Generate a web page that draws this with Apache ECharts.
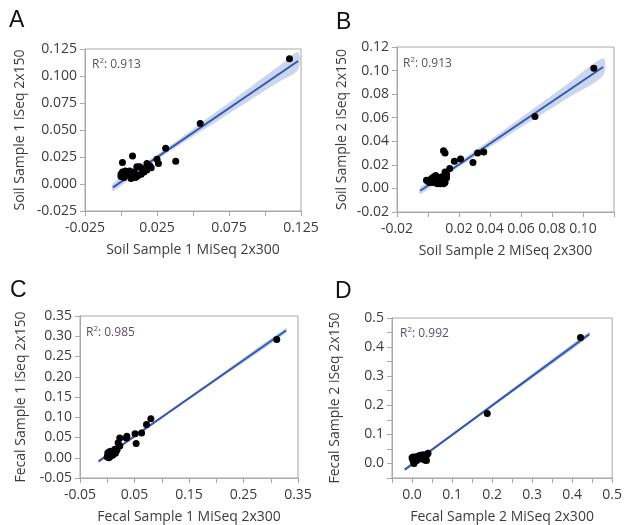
<!DOCTYPE html>
<html>
<head>
<meta charset="utf-8">
<script src="https://cdn.jsdelivr.net/npm/echarts@6/dist/echarts.min.js"></script>
<style>html,body{margin:0;padding:0;background:#fff}#c{width:625px;height:525px}</style>
</head>
<body>
<div id="c"></div>
<script>
// ---- data ----
const panelLetters = ['A', 'B', 'C', 'D'];
const r2Values = ['0.913', '0.913', '0.985', '0.992'];
const xNames = ['Soil Sample 1 MiSeq 2x300', 'Soil Sample 2 MiSeq 2x300', 'Fecal Sample 1 MiSeq 2x300', 'Fecal Sample 2 MiSeq 2x300'];
const yNames = ['Soil Sample 1 iSeq 2x150', 'Soil Sample 2 iSeq 2x150', 'Fecal Sample 1 iSeq 2x150', 'Fecal Sample 2 iSeq 2x150'];

const soil1Points = [
  [0.117, 0.116], [0.055, 0.056], [0.031, 0.033], [0.038, 0.021], [0.026, 0.019], [0.025, 0.023],
  [0.020, 0.017], [0.018, 0.019], [0.008, 0.026], [0.001, 0.020], [0.013, 0.016], [0.011, 0.016],
  [0.015, 0.014], [0.016, 0.011], [0.012, 0.008], [0.010, 0.006], [0.007, 0.005], [0.005, 0.009],
  [0.003, 0.008], [0.001, 0.011], [0.000, 0.009], [0.000, 0.007], [0.002, 0.006], [0.004, 0.010],
  [0.006, 0.012], [0.009, 0.011], [0.014, 0.009], [0.011, 0.007], [0.018, 0.013], [0.021, 0.015],
  [0.003, 0.012], [0.007, 0.009]
];
const soil2Points = [
  [0.107, 0.102], [0.069, 0.061], [0.036, 0.031], [0.032, 0.030], [0.029, 0.022], [0.021, 0.025],
  [0.017, 0.023], [0.010, 0.032], [0.011, 0.030], [0.014, 0.017], [0.011, 0.014],
  [-0.001, 0.007], [0.000, 0.006], [0.002, 0.008], [0.003, 0.009], [0.004, 0.010], [0.005, 0.011],
  [0.003, 0.005], [0.005, 0.006], [0.006, 0.004], [0.007, 0.005], [0.008, 0.006], [0.009, 0.005],
  [0.010, 0.007], [0.011, 0.008], [0.012, 0.009], [0.010, 0.004], [0.008, 0.004], [0.006, 0.008],
  [0.007, 0.009], [0.009, 0.010], [0.012, 0.012], [0.001, 0.005], [0.004, 0.006], [0.011, 0.005]
];
const fecal1Points = [
  [0.311, 0.292], [0.080, 0.096], [0.072, 0.082], [0.063, 0.061], [0.051, 0.059], [0.053, 0.035],
  [0.036, 0.053], [0.035, 0.049], [0.023, 0.049], [0.020, 0.037], [0.023, 0.029], [0.014, 0.021],
  [0.018, 0.019], [0.000, 0.002], [0.001, 0.005], [0.002, 0.010], [0.003, 0.013], [0.004, 0.015],
  [0.006, 0.012], [0.008, 0.008], [0.010, 0.006], [0.005, 0.003], [0.007, 0.016], [0.009, 0.012],
  [0.011, 0.010], [0.001, 0.012], [0.003, 0.000], [0.012, 0.014], [0.014, 0.018], [0.015, 0.011]
];
const fecal2Points = [
  [0.421, 0.433], [0.188, 0.172],
  [0.000, 0.020], [0.002, 0.012], [0.004, 0.005], [0.006, 0.018], [0.008, 0.022], [0.010, 0.015],
  [0.012, 0.010], [0.015, 0.025], [0.018, 0.020], [0.020, 0.028], [0.022, 0.018], [0.025, 0.015],
  [0.028, 0.030], [0.030, 0.022], [0.032, 0.012], [0.035, 0.025], [0.038, 0.032], [0.036, 0.010],
  [0.040, 0.035], [0.005, 0.000], [0.003, 0.022]
];
const allPoints = [soil1Points, soil2Points, fecal1Points, fecal2Points];

// regression fits
const fitSlope = [0.91, 0.89, 0.94, 1.01];
const fitIntercept = [0.002, 0.0025, 0.006, -0.003];
const fitXStart = [-0.0056, -0.005, -0.016, -0.018];
const fitXEnd = [0.123, 0.113, 0.328, 0.443];
// confidence band: x positions and half widths
const bandX = [
  [-0.0056, 0.01, 0.03, 0.05, 0.07, 0.09, 0.11, 0.123],
  [-0.005, 0.01, 0.03, 0.05, 0.07, 0.09, 0.113],
  [-0.016, 0.02, 0.1, 0.2, 0.328],
  [-0.018, 0.05, 0.2, 0.443]
];
const bandHalf = [
  [0.0035, 0.0025, 0.0025, 0.0035, 0.0048, 0.0060, 0.0073, 0.0082],
  [0.003, 0.002, 0.0025, 0.0035, 0.0047, 0.006, 0.0073],
  [0.003, 0.0025, 0.003, 0.004, 0.006],
  [0.004, 0.003, 0.005, 0.008]
];

// axis scales
const xMin = [-0.025, -0.02, -0.05, -0.05];
const xMax = [0.125, 0.12, 0.35, 0.5];
const xStep = [0.025, 0.02, 0.05, 0.05];
const yMin = [-0.025, -0.02, -0.05, -0.05];
const yMax = [0.125, 0.12, 0.35, 0.5];
const yStep = [0.025, 0.02, 0.05, 0.05];
const xDecimals = [3, 2, 2, 1];
const yDecimals = [3, 2, 2, 1];
const xLabelRule = ['even', 'soil2', 'even', 'odd'];
const yLabelRule = ['all', 'all', 'all', 'odd'];

// ---- layout ----
const grids = [
  { left: 85, top: 49, width: 216, height: 162 },
  { left: 397, top: 47, width: 217, height: 165 },
  { left: 80, top: 316, width: 218, height: 165 },
  { left: 392, top: 318, width: 224, height: 164 }
];
const letterPos = [[9, 9], [336, 11], [10, 279], [335, 280]];
const r2Pos = [[92, 57], [403, 56], [86, 325], [400, 326]];
const yNameGap = [58, 48, 52, 50];

const FONT = '"Open Sans", "DejaVu Sans", sans-serif';
const AXC = '#a8a8a8';
const TXT = '#3c3c3c';

function labelFmt(rule, dec) {
  return function (v, i) {
    let ok = true;
    if (rule === 'even') ok = i % 2 === 0;
    else if (rule === 'odd') ok = i % 2 === 1;
    else if (rule === 'soil2') ok = !(i === 1 || i === 7);
    if (!ok) return '';
    const s = Number(v).toFixed(dec);
    return /^-0\.0*$/.test(s) ? s.slice(1) : s;
  };
}

const option = {
  backgroundColor: '#fff',
  animation: false,
  title: [],
  grid: [], xAxis: [], yAxis: [], series: []
};

for (let p = 0; p < 4; p++) {
  option.title.push({
    text: panelLetters[p], left: letterPos[p][0], top: letterPos[p][1], padding: 0,
    textStyle: { fontFamily: 'Liberation Sans, Arial, sans-serif', fontSize: 23, fontWeight: 'normal', color: '#111' }
  });
  option.title.push({
    text: '{r|R}{s|2}{r|: ' + r2Values[p] + '}', left: r2Pos[p][0], top: r2Pos[p][1], padding: 0,
    textStyle: {
      fontWeight: 'normal',
      rich: {
        r: { fontFamily: FONT, fontSize: 12, fontWeight: 'normal', color: '#5b4e68', lineHeight: 14, verticalAlign: 'bottom' },
        s: { fontFamily: FONT, fontSize: 8, fontWeight: 'normal', color: '#5b4e68', lineHeight: 14, verticalAlign: 'top' }
      }
    }
  });
  option.grid.push(Object.assign({ show: true, borderColor: AXC, borderWidth: 1, backgroundColor: '#fff', containLabel: false }, grids[p]));
  option.xAxis.push({
    type: 'value', gridIndex: p, min: xMin[p], max: xMax[p], interval: xStep[p],
    name: xNames[p], nameLocation: 'middle', nameGap: 32,
    nameTextStyle: { fontFamily: FONT, fontSize: 14, color: TXT },
    axisLine: { show: true, onZero: false, lineStyle: { color: AXC } },
    axisTick: { show: true, length: 5, lineStyle: { color: AXC } },
    axisLabel: { fontFamily: FONT, fontSize: 14, color: TXT, margin: 10, formatter: labelFmt(xLabelRule[p], xDecimals[p]), showMinLabel: true, showMaxLabel: true, hideOverlap: false },
    splitLine: { show: false }
  });
  option.yAxis.push({
    type: 'value', gridIndex: p, min: yMin[p], max: yMax[p], interval: yStep[p],
    name: yNames[p], nameLocation: 'middle', nameGap: yNameGap[p], nameRotate: 90,
    nameTextStyle: { fontFamily: FONT, fontSize: 14, color: TXT },
    axisLine: { show: true, onZero: false, lineStyle: { color: AXC } },
    axisTick: { show: true, length: 5, lineStyle: { color: AXC } },
    axisLabel: { fontFamily: FONT, fontSize: 14, color: TXT, margin: 8, formatter: labelFmt(yLabelRule[p], yDecimals[p]), showMinLabel: true, showMaxLabel: true, hideOverlap: false },
    splitLine: { show: false }
  });

  const m = fitSlope[p], b = fitIntercept[p];
  const bx = bandX[p], bh = bandHalf[p];
  const upper = bx.map((x, i) => [x, m * x + b + bh[i]]);
  const lower = bx.map((x, i) => [x, m * x + b - bh[i]]);
  option.series.push({
    type: 'custom', coordinateSystem: 'cartesian2d', xAxisIndex: p, yAxisIndex: p, z: 1,
    silent: true,
    data: [[bx[0], m * bx[0] + b]],
    renderItem: function (params, api) {
      const pts = upper.map(q => api.coord(q)).concat(lower.slice().reverse().map(q => api.coord(q)));
      return { type: 'polygon', shape: { points: pts, smooth: 0.3 }, style: { fill: 'rgba(150,172,222,0.5)', stroke: null } };
    }
  });
  option.series.push({
    type: 'line', xAxisIndex: p, yAxisIndex: p, z: 2, symbol: 'none', silent: true,
    data: [[fitXStart[p], m * fitXStart[p] + b], [fitXEnd[p], m * fitXEnd[p] + b]],
    lineStyle: { color: '#3558ad', width: 2 }
  });
  option.series.push({
    type: 'scatter', xAxisIndex: p, yAxisIndex: p, z: 3, symbolSize: 7,
    data: allPoints[p], itemStyle: { color: '#000', opacity: 1 }
  });
}

const chart = echarts.init(document.getElementById('c'), null, { renderer: 'canvas' });
chart.setOption(option);
</script>
</body>
</html>
